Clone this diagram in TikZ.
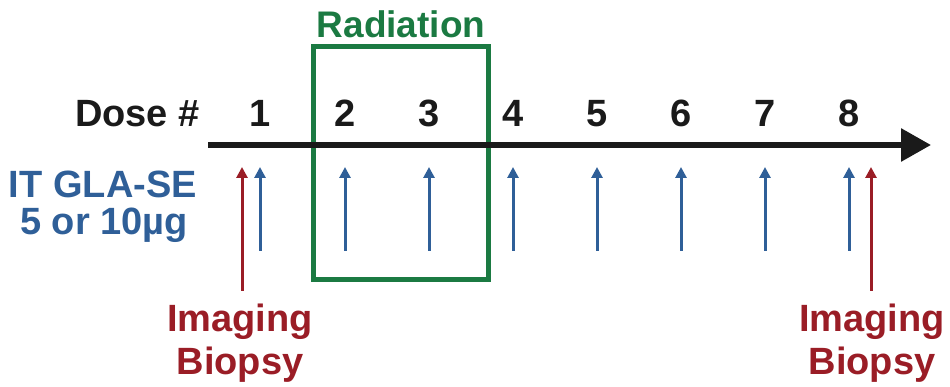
\documentclass[tikz,border=0pt]{standalone}
\usepackage{fontspec}
\setmainfont{Liberation Sans}
\usetikzlibrary{arrows.meta}
\definecolor{ink}{HTML}{1A1A1A}
\definecolor{dblue}{HTML}{2F5F98}
\definecolor{dred}{HTML}{9A1D26}
\definecolor{dgreen}{HTML}{1B7A42}
\tikzset{
  lbl/.style={font=\bfseries\fontsize{38}{41}\selectfont, anchor=base, inner sep=0pt},
  dosenum/.style={lbl, text=ink},
  bluearrow/.style={draw=dblue, line width=3pt, -{Triangle[length=11pt,width=11pt]}},
  redarrow/.style={draw=dred, line width=3pt, -{Triangle[length=11pt,width=11pt]}},
  timeline/.style={draw=ink, line width=6pt, -{Triangle[length=30pt,width=32pt]}},
  radbox/.style={draw=dgreen, line width=5pt}
}
\begin{document}
\begin{tikzpicture}[x=1pt,y=-1pt]
\useasboundingbox (0,0) rectangle (950,387);
% radiation box
\draw[radbox] (313,47) rectangle (488,280);
\node[lbl, text=dgreen, font=\bfseries\fontsize{37}{40}\selectfont] (rad) at (401,38) {Radiation};
% timeline
\coordinate (tl0) at (208,145);
\coordinate (tl1) at (931,145);
\draw[timeline] (tl0) -- (tl1);
\node[dosenum, anchor=base east] (dose) at (200,127) {Dose \#};
\foreach \i/\x in {1/260,2/345,3/429,4/513,5/597,6/681,7/765,8/849}{
  \node[dosenum] (d\i) at (\x,127) {\i};
  \coordinate (b\i) at (\x,251);
  \coordinate (t\i) at (\x,167);
  \draw[bluearrow] (b\i) -- (t\i);
}
% red arrows
\coordinate (rb1) at (242,291);
\coordinate (rt1) at (242,167);
\draw[redarrow] (rb1) -- (rt1);
\coordinate (rb2) at (871,291);
\coordinate (rt2) at (871,167);
\draw[redarrow] (rb2) -- (rt2);
% left labels
\node[lbl, text=dblue, anchor=base east] (it) at (197,198) {IT GLA-SE};
\node[lbl, text=dblue] (mu) at (104,235) {5 or 10µg};
\node[lbl, text=dred] (im1) at (240,331) {Imaging};
\node[lbl, text=dred] (bi1) at (240,374) {Biopsy};
\node[lbl, text=dred] (im2) at (872,331) {Imaging};
\node[lbl, text=dred] (bi2) at (872,374) {Biopsy};
\end{tikzpicture}
\end{document}
